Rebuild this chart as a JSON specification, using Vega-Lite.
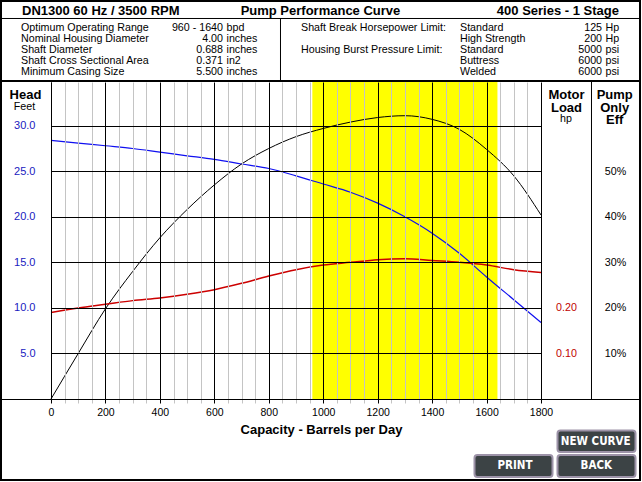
{
  "$schema": "https://vega.github.io/schema/vega-lite/v6.json",
  "width": 490,
  "height": 317,
  "autosize": {"type": "none"},
  "padding": {"left": 51, "top": 82, "right": 101, "bottom": 83},
  "background": "white",
  "config": {
    "view": {"stroke": null},
    "font": "Liberation Sans",
    "text": {"font": "Liberation Sans", "fontSize": 10.7, "color": "black"}
  },
  "data": {"values": [{}]},
  "datasets": {
    "curves": [
      {"capacity": 0, "head": 28.4, "eff": 0.0, "hp": 0.190},
      {"capacity": 100, "head": 28.1, "eff": 10.0, "hp": 0.200},
      {"capacity": 200, "head": 27.8, "eff": 19.8, "hp": 0.208},
      {"capacity": 300, "head": 27.5, "eff": 28.0, "hp": 0.216},
      {"capacity": 400, "head": 27.1, "eff": 35.4, "hp": 0.222},
      {"capacity": 500, "head": 26.7, "eff": 41.6, "hp": 0.230},
      {"capacity": 600, "head": 26.3, "eff": 47.0, "hp": 0.240},
      {"capacity": 700, "head": 25.8, "eff": 51.6, "hp": 0.254},
      {"capacity": 800, "head": 25.3, "eff": 55.0, "hp": 0.270},
      {"capacity": 900, "head": 24.5, "eff": 57.6, "hp": 0.284},
      {"capacity": 1000, "head": 23.6, "eff": 59.4, "hp": 0.294},
      {"capacity": 1100, "head": 22.7, "eff": 60.8, "hp": 0.300},
      {"capacity": 1200, "head": 21.5, "eff": 61.8, "hp": 0.306},
      {"capacity": 1300, "head": 20.0, "eff": 62.2, "hp": 0.308},
      {"capacity": 1400, "head": 18.2, "eff": 61.4, "hp": 0.304},
      {"capacity": 1500, "head": 16.0, "eff": 59.2, "hp": 0.300},
      {"capacity": 1600, "head": 13.4, "eff": 54.8, "hp": 0.294},
      {"capacity": 1700, "head": 10.9, "eff": 49.0, "hp": 0.284},
      {"capacity": 1800, "head": 8.4, "eff": 40.4, "hp": 0.278}
    ],
    "optimum": [{"low": 960, "high": 1640}]
  },
  "resolve": {"scale": {"y": "independent"}, "axis": {"y": "independent"}},
  "layer": [
    {
      "layer": [
        {
          "data": {"name": "optimum"},
          "mark": {"type": "rect", "color": "#ffff00"},
          "encoding": {
            "x": {"field": "low", "type": "quantitative"},
            "x2": {"field": "high"},
            "y": {"datum": 0, "type": "quantitative"},
            "y2": {"datum": 34.8}
          }
        },
        {
          "data": {"name": "curves"},
          "mark": {"type": "line", "color": "#1010f0", "strokeWidth": 1.2, "interpolate": "monotone"},
          "encoding": {
            "x": {
              "field": "capacity", "type": "quantitative",
              "scale": {"domain": [0, 1800], "nice": false, "zero": false},
              "axis": {
                "values": [0,50,100,150,200,250,300,350,400,450,500,550,600,650,700,750,800,850,900,950,1000,1050,1100,1150,1200,1250,1300,1350,1400,1450,1500,1550,1600,1650,1700,1750,1800],
                "tickCount": 40,
                "format": "d",
                "labelExpr": "datum.value % 200 === 0 ? datum.label : ''",
                "grid": true,
                "gridColor": {"condition": {"test": "datum.value % 200 === 0", "value": "#000000"}, "value": "#c4c4c4"},
                "gridOpacity": 1,
                "gridWidth": 1,
                "tickColor": {"condition": {"test": "datum.value % 200 === 0", "value": "#000000"}, "value": "#c4c4c4"},
                "tickSize": 4,
                "domainColor": "#000000",
                "labelFont": "Liberation Sans",
                "labelFontSize": 10.5,
                "labelColor": "#000000",
                "labelPadding": 4,
                "labelFlush": false,
                "labelOverlap": false,
                "labelBound": false,
                "title": "Capacity - Barrels per Day",
                "titleFont": "Liberation Sans",
                "titleFontSize": 13,
                "titleFontWeight": "bold",
                "titleColor": "#000000",
                "titleX": 270,
                "titleY": 34,
                "titleAlign": "center",
                "titleBaseline": "alphabetic",
                "zindex": 1
              }
            },
            "y": {
              "field": "head", "type": "quantitative",
              "scale": {"domain": [0, 34.8], "nice": false, "zero": false},
              "axis": {
                "values": [5, 10, 15, 20, 25, 30],
                "tickCount": 10,
                "format": ".1f",
                "grid": true,
                "gridColor": "#000000",
                "gridOpacity": 1,
                "domainColor": "#000000",
                "ticks": false,
                "tickSize": 0,
                "labelFont": "Liberation Sans",
                "labelFontSize": 11,
                "labelColor": "#2020c0",
                "labelPadding": 16,
                "title": null,
                "zindex": 1
              }
            }
          }
        },
        {
          "mark": {"type": "rect", "fillOpacity": 0, "stroke": "#000000", "strokeWidth": 2},
          "encoding": {
            "x": {"datum": -183.67, "type": "quantitative"},
            "x2": {"datum": 2163.67},
            "y": {"datum": 43.692, "type": "quantitative"},
            "y2": {"datum": -8.892}
          }
        },
        {
          "mark": {"type": "rule", "color": "#000000", "strokeWidth": 1},
          "encoding": {
            "x": {"datum": -187.35, "type": "quantitative"},
            "x2": {"datum": 2167.35},
            "y": {"datum": 41.771, "type": "quantitative"}
          }
        },
        {
          "mark": {"type": "rule", "color": "#000000", "strokeWidth": 1},
          "encoding": {
            "x": {"datum": 843.06, "type": "quantitative"},
            "y": {"datum": 41.826, "type": "quantitative"},
            "y2": {"datum": 34.91}
          }
        },
        {
          "mark": {"type": "rule", "color": "#000000", "strokeWidth": 2},
          "encoding": {
            "x": {"datum": -187.35, "type": "quantitative"},
            "x2": {"datum": 2167.35},
            "y": {"datum": 34.91, "type": "quantitative"}
          }
        },
        {
          "mark": {"type": "rule", "color": "#000000", "strokeWidth": 1},
          "encoding": {
            "x": {"datum": -187.35, "type": "quantitative"},
            "x2": {"datum": 2167.35},
            "y": {"datum": -0.0549, "type": "quantitative"}
          }
        },
        {
          "mark": {"type": "rule", "color": "#000000", "strokeWidth": 1},
          "encoding": {
            "x": {"datum": 1985.5, "type": "quantitative"},
            "y": {"datum": 34.91, "type": "quantitative"},
            "y2": {"datum": 0}
          }
        },
        {
          "mark": {"type": "text", "text": "DN1300 60 Hz / 3500 RPM", "align": "left", "baseline": "alphabetic", "fontSize": 13, "fontWeight": "bold"},
          "encoding": {
            "x": {"datum": -106.53, "type": "quantitative"},
            "y": {"datum": 42.155, "type": "quantitative"}
          }
        },
        {
          "mark": {"type": "text", "text": "Pump Performance Curve", "align": "center", "baseline": "alphabetic", "fontSize": 13, "fontWeight": "bold"},
          "encoding": {
            "x": {"datum": 989.9, "type": "quantitative"},
            "y": {"datum": 42.155, "type": "quantitative"}
          }
        },
        {
          "mark": {"type": "text", "text": "400 Series - 1 Stage", "align": "right", "baseline": "alphabetic", "fontSize": 13, "fontWeight": "bold"},
          "encoding": {
            "x": {"datum": 2086.5, "type": "quantitative"},
            "y": {"datum": 42.155, "type": "quantitative"}
          }
        },
        {
          "mark": {"type": "text", "text": ["Optimum Operating Range", "Nominal Housing Diameter", "Shaft Diameter", "Shaft Cross Sectional Area", "Minimum Casing Size"], "align": "left", "baseline": "alphabetic", "lineHeight": 10.9},
          "encoding": {
            "x": {"datum": -110.2, "type": "quantitative"},
            "y": {"datum": 40.344, "type": "quantitative"}
          }
        },
        {
          "mark": {"type": "text", "text": ["960 - 1640", "4.00", "0.688", "0.371", "5.500"], "align": "right", "baseline": "alphabetic", "lineHeight": 10.9},
          "encoding": {
            "x": {"datum": 631.84, "type": "quantitative"},
            "y": {"datum": 40.344, "type": "quantitative"}
          }
        },
        {
          "mark": {"type": "text", "text": ["bpd", "inches", "inches", "in2", "inches"], "align": "left", "baseline": "alphabetic", "lineHeight": 10.9},
          "encoding": {
            "x": {"datum": 644.7, "type": "quantitative"},
            "y": {"datum": 40.344, "type": "quantitative"}
          }
        },
        {
          "mark": {"type": "text", "text": "Shaft Break Horsepower Limit:", "align": "left", "baseline": "alphabetic"},
          "encoding": {
            "x": {"datum": 918.37, "type": "quantitative"},
            "y": {"datum": 40.344, "type": "quantitative"}
          }
        },
        {
          "mark": {"type": "text", "text": "Housing Burst Pressure Limit:", "align": "left", "baseline": "alphabetic"},
          "encoding": {
            "x": {"datum": 918.37, "type": "quantitative"},
            "y": {"datum": 37.951, "type": "quantitative"}
          }
        },
        {
          "mark": {"type": "text", "text": ["Standard", "High Strength", "Standard", "Buttress", "Welded"], "align": "left", "baseline": "alphabetic", "lineHeight": 10.9},
          "encoding": {
            "x": {"datum": 1502.45, "type": "quantitative"},
            "y": {"datum": 40.344, "type": "quantitative"}
          }
        },
        {
          "mark": {"type": "text", "text": ["125", "200", "5000", "6000", "6000"], "align": "right", "baseline": "alphabetic", "lineHeight": 10.9},
          "encoding": {
            "x": {"datum": 2024.3, "type": "quantitative"},
            "y": {"datum": 40.344, "type": "quantitative"}
          }
        },
        {
          "mark": {"type": "text", "text": ["Hp", "Hp", "psi", "psi", "psi"], "align": "left", "baseline": "alphabetic", "lineHeight": 10.9},
          "encoding": {
            "x": {"datum": 2036.9, "type": "quantitative"},
            "y": {"datum": 40.344, "type": "quantitative"}
          }
        },
        {
          "mark": {"type": "text", "text": "Head", "align": "center", "baseline": "alphabetic", "fontSize": 13, "fontWeight": "bold"},
          "encoding": {
            "x": {"datum": -93.67, "type": "quantitative"},
            "y": {"datum": 32.934, "type": "quantitative"}
          }
        },
        {
          "mark": {"type": "text", "text": "Feet", "align": "center", "baseline": "alphabetic"},
          "encoding": {
            "x": {"datum": -97.35, "type": "quantitative"},
            "y": {"datum": 31.72, "type": "quantitative"}
          }
        },
        {
          "mark": {"type": "text", "text": ["Motor", "Load"], "align": "center", "baseline": "alphabetic", "fontSize": 13, "fontWeight": "bold", "lineHeight": 12.7},
          "encoding": {
            "x": {"datum": 1893.7, "type": "quantitative"},
            "y": {"datum": 32.934, "type": "quantitative"}
          }
        },
        {
          "mark": {"type": "text", "text": "hp", "align": "center", "baseline": "alphabetic"},
          "encoding": {
            "x": {"datum": 1891.8, "type": "quantitative"},
            "y": {"datum": 30.41, "type": "quantitative"}
          }
        },
        {
          "mark": {"type": "text", "text": ["Pump", "Only", "Eff"], "align": "center", "baseline": "alphabetic", "fontSize": 13, "fontWeight": "bold", "lineHeight": 12.7},
          "encoding": {
            "x": {"datum": 2070.7, "type": "quantitative"},
            "y": {"datum": 32.934, "type": "quantitative"}
          }
        },
        {
          "mark": {"type": "rect", "fill": "#3c4345", "stroke": "#9d93a8", "strokeWidth": 2, "cornerRadius": 3},
          "encoding": {
            "x": {"datum": 1860.6, "type": "quantitative"},
            "x2": {"datum": 2147.2},
            "y": {"datum": -3.458, "type": "quantitative"},
            "y2": {"datum": -5.818}
          }
        },
        {
          "mark": {"type": "rect", "fill": "#3c4345", "stroke": "#9d93a8", "strokeWidth": 2, "cornerRadius": 3},
          "encoding": {
            "x": {"datum": 1555.7, "type": "quantitative"},
            "x2": {"datum": 1842.3},
            "y": {"datum": -6.148, "type": "quantitative"},
            "y2": {"datum": -8.563}
          }
        },
        {
          "mark": {"type": "rect", "fill": "#3c4345", "stroke": "#9d93a8", "strokeWidth": 2, "cornerRadius": 3},
          "encoding": {
            "x": {"datum": 1860.6, "type": "quantitative"},
            "x2": {"datum": 2147.2},
            "y": {"datum": -6.148, "type": "quantitative"},
            "y2": {"datum": -8.563}
          }
        },
        {
          "mark": {"type": "text", "text": "NEW CURVE", "align": "center", "baseline": "middle", "font": "'DejaVu Sans Condensed', 'Liberation Sans', sans-serif", "fontSize": 11.5, "fontWeight": "bold", "color": "#ffffff"},
          "encoding": {
            "x": {"datum": 2000.9, "type": "quantitative"},
            "y": {"datum": -4.721, "type": "quantitative"}
          }
        },
        {
          "mark": {"type": "text", "text": "PRINT", "align": "center", "baseline": "middle", "font": "'DejaVu Sans Condensed', 'Liberation Sans', sans-serif", "fontSize": 11.5, "fontWeight": "bold", "color": "#ffffff"},
          "encoding": {
            "x": {"datum": 1704.5, "type": "quantitative"},
            "y": {"datum": -7.388, "type": "quantitative"}
          }
        },
        {
          "mark": {"type": "text", "text": "BACK", "align": "center", "baseline": "middle", "font": "'DejaVu Sans Condensed', 'Liberation Sans', sans-serif", "fontSize": 11.5, "fontWeight": "bold", "color": "#ffffff"},
          "encoding": {
            "x": {"datum": 2003.1, "type": "quantitative"},
            "y": {"datum": -7.388, "type": "quantitative"}
          }
        }
      ]
    },
    {
      "data": {"name": "curves"},
      "mark": {"type": "line", "color": "#000000", "strokeWidth": 1, "interpolate": "monotone"},
      "encoding": {
        "x": {"field": "capacity", "type": "quantitative"},
        "y": {
          "field": "eff", "type": "quantitative",
          "scale": {"domain": [0, 69.6], "nice": false, "zero": false},
          "axis": {
            "orient": "right",
            "values": [10, 20, 30, 40, 50],
            "tickCount": 10,
            "labelExpr": "datum.value + '%'",
            "domain": false,
            "ticks": false,
            "tickSize": 0,
            "grid": false,
            "labelAlign": "center",
            "labelPadding": 74,
            "labelFont": "Liberation Sans",
            "labelFontSize": 10.7,
            "labelColor": "#000000",
            "title": null
          }
        }
      }
    },
    {
      "data": {"name": "curves"},
      "mark": {"type": "line", "color": "#cc0000", "strokeWidth": 1.5, "interpolate": "monotone"},
      "encoding": {
        "x": {"field": "capacity", "type": "quantitative"},
        "y": {
          "field": "hp", "type": "quantitative",
          "scale": {"domain": [0, 0.696], "nice": false, "zero": false},
          "axis": {
            "orient": "right",
            "values": [0.1, 0.2],
            "format": ".2f",
            "domain": false,
            "ticks": false,
            "tickSize": 0,
            "grid": false,
            "labelAlign": "center",
            "labelPadding": 25,
            "labelFont": "Liberation Sans",
            "labelFontSize": 10.7,
            "labelColor": "#c00000",
            "title": null
          }
        }
      }
    }
  ]
}
